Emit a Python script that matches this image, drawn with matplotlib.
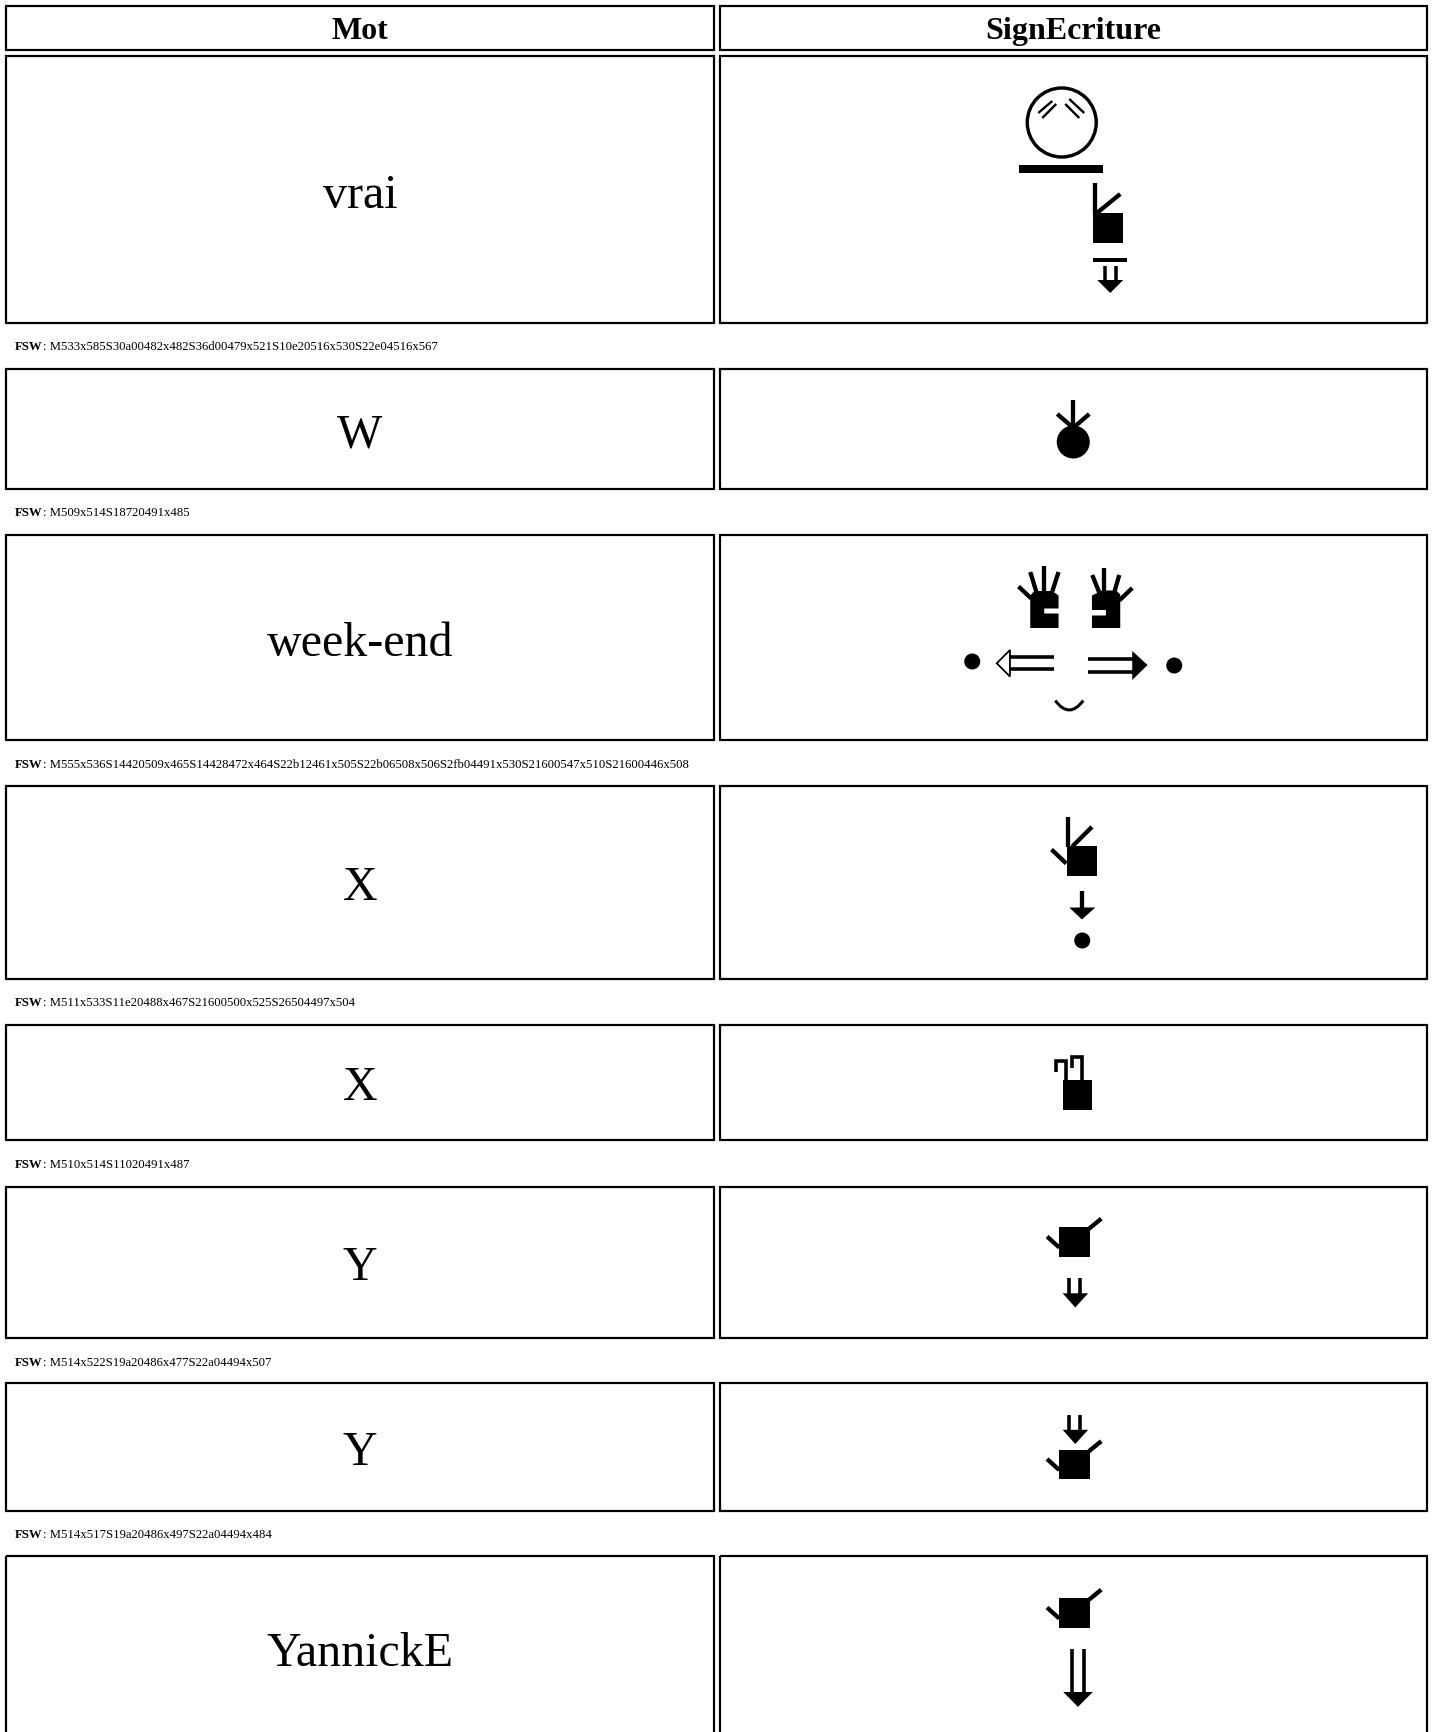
import re
import numpy as np
from matplotlib import pyplot as plt
from matplotlib.patches import Circle, Polygon, Rectangle, PathPatch
from matplotlib.path import Path

headers = ['Mot', 'SignEcriture']
words = ['vrai', 'W', 'week-end', 'X', 'X', 'Y', 'Y', 'YannickE']
fsw = ['M533x585S30a00482x482S36d00479x521S10e20516x530S22e04516x567',
       'M509x514S18720491x485',
       'M555x536S14420509x465S14428472x464S22b12461x505S22b06508x506S2fb04491x530S21600547x510S21600446x508',
       'M511x533S11e20488x467S21600500x525S26504497x504',
       'M510x514S11020491x487',
       'M514x522S19a20486x477S22a04494x507',
       'M514x517S19a20486x497S22a04494x484',
       'M514x537S19a20486x477S22a00494x507']
n_captions = 7  # the last row runs off the page, its caption is not seen

row_top = [56, 369, 535, 786, 1025, 1187, 1383, 1556]
row_bottom = [323, 489, 740, 979, 1140, 1338, 1511, 1741]

col_left = [6, 720.5]
col_right = [714, 1427]

fig = plt.figure(figsize=(14.33, 17.32), dpi=100)
ax = fig.add_axes([0, 0, 1, 1])
ax.set_xlim(0, 1433)
ax.set_ylim(1732, 0)
ax.axis('off')

plt.rcParams['font.family'] = ['Liberation Serif']


def px(size):
    return size * 72 / 100


def lines(x, y, pts, lw=4.3):
    xs = [x + p[0] for p in pts]
    ys = [y + p[1] for p in pts]
    ax.plot(xs, ys, color='black', lw=px(lw), solid_capstyle='butt', solid_joinstyle='miter')


def fill(x, y, pts):
    ax.add_patch(Polygon([(x + p[0], y + p[1]) for p in pts], closed=True, fc='black', ec='none'))


def box(x, y, x0, y0, x1, y1):
    ax.add_patch(Rectangle((x + x0, y + y0), x1 - x0, y1 - y0, fc='black', ec='none'))


def s30a00(x, y):
    ax.add_patch(Circle((x + 36.5, y + 36), 34.5, fc='none', ec='black', lw=px(3.4)))
    for a, b in [((27, 14.5), (13, 26.5)), ((31, 17.5), (17, 31.5)),
                 ((40, 17.5), (54, 31.5)), ((44, 12.5), (59, 26.5))]:
        lines(x, y, [a, b], 2.4)


def s36d00(x, y):
    box(x, y, 0, 0.5, 84, 8.5)


def s10e20(x, y):
    box(x, y, 0, 30.5, 30, 60.5)
    lines(x, y, [(2, 0), (2, 31)])
    lines(x, y, [(3, 31), (27, 11.5)])


def s22e04(x, y):
    box(x, y, 0, 1.5, 34, 5.5)
    lines(x, y, [(12, 9.5), (12, 24)], 3.5)
    lines(x, y, [(23, 9.5), (23, 24)], 3.5)
    fill(x, y, [(4, 23.5), (30, 23.5), (17, 36.5)])


def s18720(x, y):
    lines(x, y, [(18, 0), (18, 28)])
    lines(x, y, [(2, 14), (17, 27)])
    lines(x, y, [(34, 14), (19, 27)])
    ax.add_patch(Circle((x + 18, y + 42), 16.5, fc='black', ec='none'))


def s14420(x, y):
    fill(x, y, [(1.7, 28), (12, 23), (26, 23), (30, 27), (30, 60.5), (1.7, 60.5),
                (1.7, 48), (15.7, 48), (15.7, 42.5), (1.7, 42.5)])
    lines(x, y, [(14, 0.5), (14, 25)])
    lines(x, y, [(2, 7.5), (9, 25)])
    lines(x, y, [(29, 7.5), (24, 25)])
    lines(x, y, [(42, 20.5), (29, 33)])


def s14428(x, y):
    fill(x, y, [(14, 30), (18, 25.5), (36, 25.5), (42.3, 30), (42.3, 43), (28, 43),
                (28, 48), (42.3, 48), (42.3, 62.5), (14, 62.5)])
    lines(x, y, [(28, 0), (28, 26)])
    lines(x, y, [(14, 6.5), (20, 26)])
    lines(x, y, [(42.3, 6.5), (36, 26)])
    lines(x, y, [(2.3, 21), (15, 33)])


def s22b12(x, y):
    lines(x, y, [(15, 9.8), (60, 9.8)], 3.6)
    lines(x, y, [(15, 21.5), (60, 21.5)], 3.6)
    ax.add_patch(Polygon([(x + 2.5, y + 15.8), (x + 15.7, y + 2.5), (x + 15.7, y + 29)], closed=True,
                         fc='white', ec='black', lw=px(1.8)))


def s22b06(x, y):
    lines(x, y, [(0, 9.5), (46, 9.5)], 3.6)
    lines(x, y, [(0, 22), (46, 22)], 3.6)
    fill(x, y, [(44, 1.5), (44, 30.5), (59.3, 15.5)])


def s2fb04(x, y):
    path = Path([(x + 1, y + 3), (x + 15, y + 22), (x + 29, y + 3)], [Path.MOVETO, Path.CURVE3, Path.CURVE3])
    ax.add_patch(PathPatch(path, fc='none', ec='black', lw=px(3)))


def s21600(x, y):
    ax.add_patch(Circle((x + 8, y + 8), 8, fc='black', ec='none'))


def s11e20(x, y):
    box(x, y, 16.3, 29.7, 46.3, 59.7)
    lines(x, y, [(18, 0), (18, 30)])
    lines(x, y, [(41.7, 10.4), (22, 30)])
    lines(x, y, [(1.3, 33), (16, 47)])


def s26504(x, y):
    lines(x, y, [(13.7, 0.4), (13.7, 20)])
    fill(x, y, [(1, 17), (27, 17), (13.7, 29)])


def s11020(x, y):
    box(x, y, 8.3, 24.5, 37.7, 54)
    lines(x, y, [(1.7, 16), (1.7, 5), (11.7, 5), (11.7, 24.5)], 3.6)
    lines(x, y, [(17.3, 12), (17.3, 1.5), (27.3, 1.5), (27.3, 24.5)], 3.6)


def s19a20(x, y):
    box(x, y, 13.5, 9.5, 45, 39.2)
    lines(x, y, [(1.8, 19), (14, 30)])
    lines(x, y, [(56, 1.2), (43.6, 11.3)])


def s22a04(x, y):
    lines(x, y, [(8.2, 0.5), (8.2, 16)], 3.6)
    lines(x, y, [(18.4, 0.5), (18.4, 16)], 3.6)
    fill(x, y, [(1.4, 15.8), (26.9, 15.8), (14, 30)])


def s22a00(x, y):
    lines(x, y, [(10.6, 0), (10.6, 44)], 3.6)
    lines(x, y, [(22.5, 0), (22.5, 44)], 3.6)
    fill(x, y, [(2, 43.5), (31.6, 43.5), (16.7, 58.4)])


symbols = {'S30a00': s30a00, 'S36d00': s36d00, 'S10e20': s10e20, 'S22e04': s22e04,
           'S18720': s18720, 'S14420': s14420, 'S14428': s14428, 'S22b12': s22b12,
           'S22b06': s22b06, 'S2fb04': s2fb04, 'S21600': s21600, 'S11e20': s11e20,
           'S26504': s26504, 'S11020': s11020, 'S19a20': s19a20, 'S22a04': s22a04,
           'S22a00': s22a00}


def cell(left, right, top, bottom):
    ax.add_patch(Rectangle((left, top), right - left, bottom - top, fc='none', ec='black', lw=px(2.2)))


# header
for i in range(2):
    cell(col_left[i], col_right[i], 6, 50)
    ax.text((col_left[i] + col_right[i]) / 2 - 0.5, 39, headers[i], ha='center', va='baseline',
            fontsize=px(32), fontweight='bold')

for i in range(len(words)):
    top, bottom = row_top[i], row_bottom[i]
    mid = (top + bottom) / 2
    cell(col_left[0], col_right[0], top, bottom)
    cell(col_left[1], col_right[1], top, bottom)
    ax.text((col_left[0] + col_right[0]) / 2, mid + 18, words[i], ha='center', va='baseline', fontsize=px(48))

    # fsw coordinates are drawn at twice their size, box centred in the cell
    mx, my = re.match(r'M(\d+)x(\d+)', fsw[i]).groups()
    parts = re.findall(r'(S[0-9a-f]{5})(\d+)x(\d+)', fsw[i])
    xs = np.array([int(p[1]) for p in parts])
    ys = np.array([int(p[2]) for p in parts])
    x0 = (col_left[1] + col_right[1]) / 2 - 0.5 - (int(mx) - xs.min())
    y0 = mid - (int(my) - ys.min())
    for p, sx, sy in zip(parts, xs, ys):
        symbols[p[0]](x0 + (sx - xs.min()) * 2, y0 + (sy - ys.min()) * 2)

    if i < n_captions:
        ax.text(15, bottom + 27.5, 'FSW', fontsize=px(12.8), fontweight='bold', va='baseline')
        ax.text(42.7, bottom + 27.5, ': ' + fsw[i], fontsize=px(12.8), va='baseline')

fig.savefig('out.png', dpi=100)
